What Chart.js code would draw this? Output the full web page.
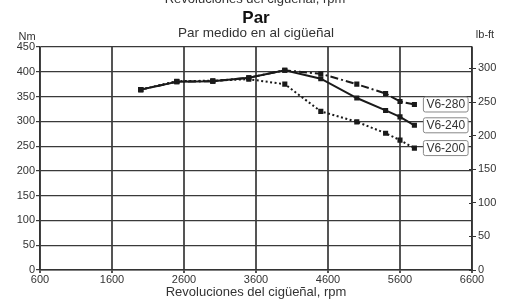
<!DOCTYPE html>
<html>
<head>
<meta charset="utf-8">
<script src="https://cdn.jsdelivr.net/npm/chart.js@4.4.0/dist/chart.umd.min.js"></script>
<style>
html,body{margin:0;padding:0;background:#fff;}
#wrap{width:511px;height:300px;position:relative;}
</style>
</head>
<body>
<div id="wrap"><canvas id="c" width="511" height="300"></canvas></div>
<script>
const rpm = [2000, 2500, 3000, 3500, 4000, 4500, 5000, 5400, 5600, 5800];
const v6_280 = [364, 380, 381, 388, 403, 396, 375, 356, 340, 334];
const v6_240 = [364, 380, 381, 388, 403, 386, 347, 322, 309, 292];
const v6_200 = [364, 381, 382, 385, 375, 320, 299, 276, 262, 246];
const seriesNames = ['V6-280', 'V6-240', 'V6-200'];
const xTicks = [600, 1600, 2600, 3600, 4600, 5600, 6600];
const nmTicks = [0, 50, 100, 150, 200, 250, 300, 350, 400, 450];
const lbftTicks = [0, 50, 100, 150, 200, 250, 300];
const titleText = 'Par';
const subtitleText = 'Par medido en al cigüeñal';
const xTitle = 'Revoluciones del cigüeñal, rpm';
const NM_TO_LBFT = 0.73756;

const FONT = '"Liberation Sans", Arial, sans-serif';
const TXT = '#333';

function pts(arr){ return rpm.map((r,i)=>({x:r,y:arr[i]})); }

const labelPlugin = {
  id: 'labels',
  afterDatasetsDraw(chart){
    const ctx = chart.ctx;
    ctx.save();
    chart.data.datasets.forEach((ds, di) => {
      const meta = chart.getDatasetMeta(di);
      const last = meta.data[meta.data.length-1];
      const x = last.x + 9, y = last.y;
      ctx.font = '12px ' + FONT;
      const w = ctx.measureText(ds.label).width + 6;
      const h = 15;
      ctx.beginPath();
      ctx.roundRect(x, y - h/2, w, h, 2);
      ctx.fillStyle = '#fff';
      ctx.fill();
      ctx.strokeStyle = '#888';
      ctx.lineWidth = 1;
      ctx.stroke();
      ctx.fillStyle = TXT;
      ctx.textBaseline = 'middle';
      ctx.textAlign = 'left';
      ctx.fillText(ds.label, x + 3, y + 0.5);
    });
    ctx.restore();
  },
  afterDraw(chart){
    const ctx = chart.ctx;
    const ca = chart.chartArea;
    ctx.save();
    ctx.fillStyle = TXT;
    ctx.textAlign = 'center';
    ctx.textBaseline = 'alphabetic';
    ctx.font = '13px ' + FONT;
    ctx.fillText(xTitle, 255, 3);
    ctx.fillStyle = '#111';
    ctx.font = 'bold 17px ' + FONT;
    ctx.fillText(titleText, 256, 23);
    ctx.fillStyle = TXT;
    ctx.font = '13.5px ' + FONT;
    ctx.fillText(subtitleText, 256, 37);
    ctx.font = '11px ' + FONT;
    ctx.fillText('Nm', 27, 40);
    ctx.fillText('lb-ft', 485, 38);
    const yr = chart.scales.yr;
    ctx.strokeStyle = '#333';
    ctx.lineWidth = 1;
    lbftTicks.forEach(v => {
      const py = Math.round(yr.getPixelForValue(v)) + 0.5;
      ctx.beginPath();
      ctx.moveTo(ca.right - 3, py);
      ctx.lineTo(ca.right, py);
      ctx.stroke();
    });
    ctx.restore();
  }
};

const common = { borderColor:'#1a1a1a', backgroundColor:'#1a1a1a', borderWidth:2, pointStyle:'rect', pointRadius:2.2, pointHoverRadius:2.2, tension:0, fill:false };

new Chart(document.getElementById('c'), {
  type: 'line',
  data: {
    datasets: [
      Object.assign({label: seriesNames[0], data: pts(v6_280), borderDash:[8,3,2,3]}, common),
      Object.assign({label: seriesNames[1], data: pts(v6_240)}, common),
      Object.assign({label: seriesNames[2], data: pts(v6_200), borderDash:[2,2.5]}, common)
    ]
  },
  options: {
    responsive: false,
    animation: false,
    devicePixelRatio: 1,
    layout: { padding: { top: 47, left: 0, right: 0, bottom: 0 } },
    plugins: { legend: {display:false}, title:{display:false}, tooltip:{enabled:false} },
    scales: {
      x: {
        type: 'linear', min: 600, max: 6600,
        afterBuildTicks: s => { s.ticks = xTicks.map(v=>({value:v})); },
        afterFit: s => { s.height = 30; },
        grid: { color:'#555', lineWidth:2, tickLength:3, drawTicks:true },
        border: { color:'#333', width:1.5 },
        ticks: { color: TXT, font:{family:FONT, size:11}, padding:0, maxRotation:0, callback: v => String(v) },
        title: { display:true, text:xTitle, color:TXT, font:{family:FONT, size:13}, padding:{top:0,bottom:0} }
      },
      y: {
        position:'left', min:0, max:450,
        afterBuildTicks: s => { s.ticks = nmTicks.map(v=>({value:v})); },
        afterFit: s => { s.width = 40; },
        grid: { color:'#3a3a3a', lineWidth:1.2, tickLength:4 },
        border: { color:'#333', width:1.5 },
        ticks: { color: TXT, font:{family:FONT, size:11}, padding:1, callback: v => String(v) }
      },
      yr: {
        position:'right', min:0, max:450*NM_TO_LBFT,
        afterBuildTicks: s => { s.ticks = lbftTicks.map(v=>({value:v})); },
        afterFit: s => { s.width = 39; },
        grid: { drawOnChartArea:false, color:'#333', lineWidth:1, tickLength:4 },
        border: { color:'#333', width:1.5 },
        ticks: { color: TXT, font:{family:FONT, size:11}, padding:2, callback: v => String(v) }
      }
    }
  },
  plugins: [labelPlugin]
});
</script>
</body>
</html>
